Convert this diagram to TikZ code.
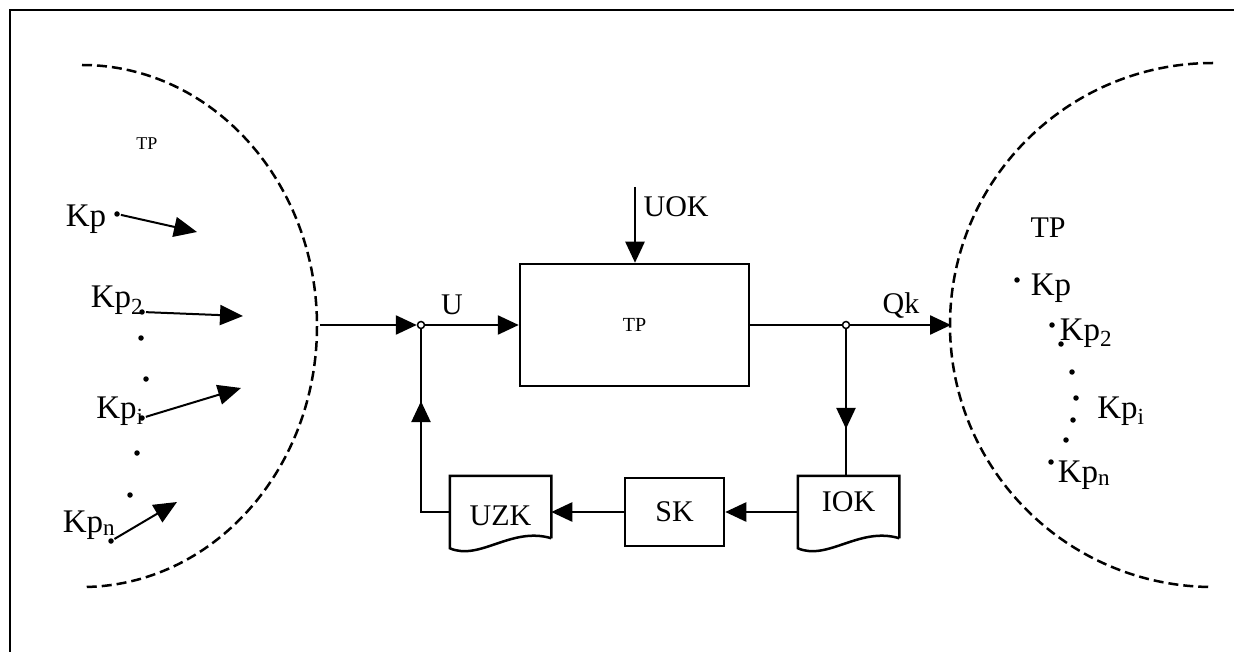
\documentclass[tikz,border=0pt]{standalone}
\usepackage{fontspec}
\setmainfont{Liberation Serif}
\usetikzlibrary{positioning,arrows.meta,decorations.markings}
\tikzset{
  >={Triangle[length=21pt,width=19pt]},
  bigtext/.style={font=\fontsize{30}{36}\selectfont},
  kp/.style={font=\fontsize{33}{40}\selectfont,anchor=base,inner sep=0pt},
}

\begin{document}
\begin{tikzpicture}[
  x=1pt,y=-1pt,line width=2.5pt,
  node distance=174pt,
  block/.style={draw,rectangle,minimum width=99pt,minimum height=68pt,inner sep=0pt},
  doc/.style={rectangle,minimum width=99pt,minimum height=70pt,inner sep=0pt},
  junc/.style={circle,draw,fill=white,line width=1.5pt,inner sep=0pt,minimum size=7pt},
  kdot/.style={circle,fill,inner sep=0pt,minimum size=5.5pt},
  region/.style={dash pattern=on 10pt off 5pt},
  kpar/.style={->,line width=2pt,>={Triangle[length=23pt,width=20pt]}},
  feed/.style={postaction=decorate,decoration={markings,
    mark=at position #1 with {\arrow{Triangle[length=21pt,width=19pt]}}}},
]
  \useasboundingbox (0,0) rectangle (1234,652);
  \draw (10,10) rectangle (1250,670);

  \draw[region] (82,65) arc[start angle=-90,end angle=90,x radius=235,y radius=261];
  \draw[region] (1213,63) arc[start angle=270,end angle=90,x radius=263,y radius=262];

  \node[draw,minimum width=229pt,minimum height=122pt,font=\fontsize{20}{24}\selectfont] (tp) at (634.5,325) {TP};
  \node[doc,label={[yshift=10pt,bigtext]center:IOK}] (iok) at (848.5,512) {};
  \node[block,bigtext,left of=iok] (sk) {SK};
  \node[doc,left of=sk,label={[yshift=-4pt,bigtext]center:UZK}] (uzk) {};
  \foreach \d in {uzk,iok}
    \draw ([yshift=10pt]\d.south east) -- (\d.north east) -- (\d.north west) -- (\d.south west)
      .. controls ([xshift=30pt,yshift=-13pt]\d.south west) and ([xshift=-40pt,yshift=22pt]\d.south east)
      .. ([yshift=10pt]\d.south east);

  \node[junc] (j1) at (421,325) {};
  \node[junc] (j2) at (846,325) {};
  \coordinate (inL) at (320,325);
  \coordinate (outR) at (951,325);
  \coordinate (uok) at (635,187);

  \draw[->] (inL) -- (j1);
  \draw[->] (j1) -- (tp);
  \draw (tp) -- (j2);
  \draw[->] (j2) -- (outR);
  \draw[->] (uok) -- (uok |- tp.north);
  \draw[feed=0.68] (j2) -- (j2 |- iok.north);
  \draw[->] (iok.west) -- (sk.east);
  \draw[->] (sk) -- (uzk);
  \draw[feed=0.66] (uzk.west) -| (j1);

  \node[bigtext,anchor=base west] (uoklbl) at (639,217) {UOK};
  \node[bigtext,anchor=base] (ulbl) at (452,315) {U};
  \node[bigtext,anchor=base] (qklbl) at (901,313) {Qk};

  \node[font=\fontsize{18}{22}\selectfont,anchor=base] (ltp) at (147,150) {TP};
  \node[kp] (lkp1) at (86,227) {Kp};
  \node[kp] (lkp2) at (117,308) {Kp\textsubscript{2}};
  \node[kp] (lkp3) at (120,418) {Kp\textsubscript{i}};
  \node[kp] (lkp4) at (89,532) {Kp\textsubscript{n}};
  \node[kdot] (ls1) at (117,214) {};
  \node[kdot] (ls2) at (142,312) {};
  \node[kdot] (ls3) at (142,418) {};
  \node[kdot] (ls4) at (111,541) {};
  \coordinate (lt1) at (197,232);
  \coordinate (lt2) at (243,316);
  \coordinate (lt3) at (241,388);
  \coordinate (lt4) at (177,502);
  \foreach \i in {1,...,4}
    \draw[kpar] (ls\i) -- (lt\i);
  \foreach \p [count=\i] in {(141,338),(146,379),(137,453),(130,495)}
    \node[kdot] (lg\i) at \p {};

  \node[bigtext,anchor=base] (rtp) at (1048,238) {TP};
  \node[kp] (rkp1) at (1051,295) {Kp};
  \node[kp] (rkp2) at (1086,340) {Kp\textsubscript{2}};
  \node[kp] (rkp3) at (1121,418) {Kp\textsubscript{i}};
  \node[kp] (rkp4) at (1084,482) {Kp\textsubscript{n}};
  \foreach \p [count=\i] in {(1017,280),(1052,325),(1061,344),(1072,372),(1076,398),(1073,420),(1066,440),(1051,462)}
    \node[kdot] (rd\i) at \p {};
\end{tikzpicture}
\end{document}
